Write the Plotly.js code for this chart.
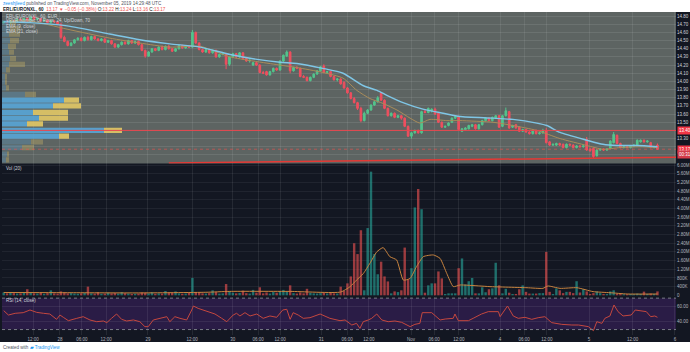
<!DOCTYPE html>
<html><head><meta charset="utf-8">
<script src="https://cdn.plot.ly/plotly-3.0.1.min.js"></script>
<style>html,body{margin:0;padding:0;background:#fff;}#chart{width:690px;height:352px;}</style>
</head><body><div id="chart"></div>
<script>
// ---------- DATA ----------
const opens = [
14.72,14.73,14.72,14.74,14.73,14.76,14.75,14.77,14.74,14.79,
14.76,14.77,14.74,14.75,14.72,14.74,14.73,14.70,14.54,14.49,
14.44,14.47,14.51,14.53,14.50,14.54,14.51,14.55,14.52,14.50,
14.52,14.48,14.50,14.46,14.42,14.45,14.48,14.46,14.50,14.47,
14.49,14.45,14.38,14.31,14.36,14.40,14.38,14.42,14.39,14.43,
14.40,14.37,14.40,14.44,14.41,14.43,14.42,14.60,14.47,14.39,
14.36,14.39,14.35,14.38,14.30,14.33,14.34,14.21,14.30,14.34,
14.30,14.35,14.28,14.25,14.20,14.23,14.20,14.11,14.12,14.08,
14.12,14.16,14.14,14.25,14.31,14.36,14.13,14.17,14.16,14.06,
14.05,14.01,14.05,14.09,14.13,14.19,14.11,14.12,14.06,14.02,
14.03,13.99,13.92,13.86,13.79,13.74,13.67,13.52,13.61,13.65,
13.71,13.75,13.86,13.77,13.67,13.58,13.61,13.56,13.58,13.55,
13.45,13.33,13.37,13.40,13.37,13.63,13.62,13.64,13.66,13.61,
13.50,13.44,13.46,13.50,13.55,13.57,13.39,13.41,13.42,13.45,
13.47,13.42,13.47,13.52,13.55,13.52,13.55,13.58,13.45,13.58,
13.63,13.44,13.47,13.44,13.39,13.41,13.38,13.36,13.40,13.36,
13.37,13.40,13.26,13.22,13.22,13.24,13.23,13.19,13.23,13.22,
13.19,13.21,13.20,13.29,13.17,13.18,13.09,13.16,13.17,13.16,
13.18,13.25,13.34,13.24,13.19,13.20,13.19,13.21,13.22,13.26,
13.28,13.26,13.25,13.19,13.22];
const highs = [
14.74,14.75,14.75,14.75,14.77,14.77,14.78,14.78,14.80,14.80,
14.78,14.78,14.76,14.76,14.75,14.75,14.74,14.72,14.56,14.50,
14.48,14.52,14.54,14.54,14.55,14.56,14.56,14.56,14.53,14.53,
14.53,14.51,14.51,14.47,14.46,14.49,14.49,14.51,14.51,14.50,
14.50,14.46,14.39,14.37,14.41,14.41,14.43,14.44,14.44,14.45,
14.41,14.41,14.45,14.45,14.44,14.44,14.63,14.61,14.48,14.40,
14.40,14.40,14.39,14.39,14.34,14.35,14.35,14.31,14.35,14.35,
14.36,14.36,14.29,14.27,14.24,14.24,14.21,14.13,14.13,14.13,
14.17,14.17,14.26,14.33,14.38,14.37,14.18,14.19,14.17,14.08,
14.06,14.06,14.10,14.14,14.19,14.21,14.13,14.13,14.07,14.04,
14.04,14.00,13.93,13.87,13.81,13.75,13.69,13.63,13.66,13.72,
13.77,13.82,13.87,13.78,13.68,13.62,13.62,13.59,13.59,13.56,
13.46,13.38,13.41,13.41,13.64,13.66,13.68,13.67,13.68,13.62,
13.51,13.46,13.50,13.56,13.58,13.58,13.43,13.44,13.47,13.48,
13.48,13.48,13.53,13.56,13.56,13.57,13.59,13.59,13.59,13.68,
13.64,13.47,13.48,13.45,13.42,13.42,13.39,13.41,13.41,13.38,
13.42,13.43,13.27,13.24,13.25,13.25,13.24,13.24,13.24,13.23,
13.22,13.22,13.22,13.32,13.19,13.19,13.17,13.18,13.18,13.18,
13.28,13.38,13.35,13.25,13.21,13.21,13.22,13.23,13.29,13.29,
13.29,13.28,13.26,13.21,13.24];
const lows = [
14.71,14.71,14.71,14.72,14.72,14.74,14.74,14.73,14.73,14.75,
14.75,14.73,14.73,14.71,14.71,14.72,14.69,14.52,14.48,14.43,
14.43,14.46,14.50,14.49,14.49,14.50,14.50,14.51,14.49,14.49,
14.47,14.47,14.45,14.41,14.41,14.44,14.45,14.45,14.46,14.46,
14.44,14.37,14.29,14.30,14.35,14.37,14.37,14.38,14.38,14.39,
14.36,14.36,14.39,14.40,14.40,14.41,14.41,14.46,14.38,14.35,
14.35,14.34,14.34,14.29,14.29,14.32,14.15,14.19,14.29,14.29,
14.29,14.27,14.24,14.23,14.19,14.19,14.10,14.09,14.07,14.07,
14.11,14.13,14.13,14.24,14.30,14.10,14.12,14.15,14.05,14.04,
14.00,14.00,14.04,14.08,14.12,14.10,14.09,14.05,14.01,14.00,
13.96,13.91,13.85,13.78,13.73,13.65,13.50,13.51,13.60,13.64,
13.70,13.74,13.76,13.66,13.57,13.57,13.55,13.55,13.53,13.44,
13.32,13.30,13.36,13.36,13.36,13.61,13.61,13.62,13.59,13.49,
13.43,13.43,13.45,13.49,13.54,13.40,13.38,13.40,13.41,13.44,
13.41,13.41,13.46,13.51,13.51,13.51,13.54,13.43,13.44,13.57,
13.42,13.43,13.42,13.38,13.38,13.37,13.35,13.35,13.35,13.35,
13.36,13.24,13.21,13.21,13.21,13.21,13.18,13.18,13.21,13.18,
13.18,13.19,13.19,13.15,13.14,13.06,13.08,13.15,13.15,13.15,
13.17,13.24,13.23,13.18,13.18,13.18,13.18,13.20,13.21,13.25,
13.25,13.25,13.18,13.18,13.16];
const closes = [
14.73,14.72,14.74,14.73,14.76,14.75,14.77,14.74,14.79,14.76,
14.77,14.74,14.75,14.72,14.74,14.73,14.70,14.54,14.49,14.44,
14.47,14.51,14.53,14.50,14.54,14.51,14.55,14.52,14.50,14.52,
14.48,14.50,14.46,14.42,14.45,14.48,14.46,14.50,14.47,14.49,
14.45,14.38,14.31,14.36,14.40,14.38,14.42,14.39,14.43,14.40,
14.37,14.40,14.44,14.41,14.43,14.42,14.60,14.47,14.39,14.36,
14.39,14.35,14.38,14.30,14.33,14.34,14.21,14.30,14.34,14.30,
14.35,14.28,14.25,14.26,14.23,14.20,14.11,14.10,14.08,14.12,
14.16,14.14,14.25,14.32,14.36,14.13,14.17,14.16,14.06,14.05,
14.01,14.05,14.09,14.13,14.18,14.11,14.12,14.06,14.02,14.03,
13.97,13.92,13.86,13.79,13.74,13.67,13.52,13.61,13.65,13.71,
13.75,13.80,13.77,13.67,13.58,13.61,13.56,13.58,13.55,13.45,
13.33,13.37,13.40,13.37,13.63,13.62,13.67,13.66,13.60,13.50,
13.44,13.45,13.49,13.55,13.57,13.41,13.42,13.43,13.46,13.47,
13.42,13.47,13.52,13.55,13.52,13.56,13.58,13.44,13.58,13.64,
13.43,13.46,13.43,13.39,13.41,13.38,13.36,13.40,13.36,13.37,
13.40,13.25,13.22,13.23,13.24,13.22,13.19,13.23,13.22,13.19,
13.21,13.20,13.21,13.16,13.15,13.08,13.16,13.17,13.16,13.17,
13.27,13.35,13.24,13.19,13.20,13.19,13.21,13.22,13.28,13.28,
13.26,13.27,13.19,13.20,13.17];
// volume in thousands
const volumes = [
130,90,110,100,80,90,120,280,120,90,
80,130,70,100,230,90,80,180,130,90,
100,80,70,90,110,400,90,80,150,70,
80,120,90,110,80,150,100,80,60,70,
80,130,120,90,150,70,90,80,200,120,
110,180,90,70,80,120,800,150,130,90,
80,100,230,150,80,90,520,200,120,90,
110,215,100,80,250,120,370,90,130,80,
150,120,200,250,180,460,100,80,130,90,
300,110,90,80,100,120,80,110,90,80,
400,200,550,870,2400,1900,3000,230,3100,5700,
1900,970,1550,870,640,90,180,150,230,2200,
740,1250,4050,4900,3970,120,460,550,550,1100,
780,60,90,90,90,1250,1700,500,650,800,
90,90,370,140,280,320,1500,460,90,300,
120,60,60,280,460,160,80,80,80,100,
100,2000,160,60,320,230,100,160,160,100,
650,130,280,180,60,100,180,100,60,60,
180,230,60,60,50,50,60,50,80,60,
170,60,80,60,180];
// volume moving average (bar index, thousands)
const volMaBar = [0,20,40,60,67,85,100,102.8,104.7,106.7,108.7,110.7,112.6,114.6,116.6,118.6,120.6,122.5,124.5,127.5,129.5,131.5,133.4,135.4,141.3,144.3,155.3,160,161.5,165.1,170.1,174.9,179.9,185,194];
const volMaVal = [130,120,110,140,180,180,150,400,700,1000,1480,2000,2200,1780,1630,700,780,1320,1780,1860,1700,1000,400,475,430,400,350,320,430,320,350,170,120,60,60];
// moving averages on price
const emaSlowBar = [0,7.8,18.8,31.5,40.4,49.3,58.3,67.2,75.2,82,87,94.7,100.7,106.6,110.8,113.7,118.5,124.4,130.4,135.4,145.2,151.1,158.2,161.2,165.1,173.1,177.8,182,187.9,194];
const emaSlowVal = [14.73,14.72,14.68,14.58,14.51,14.46,14.42,14.33,14.27,14.235,14.22,14.16,14.10,13.95,13.89,13.83,13.74,13.66,13.61,13.57,13.55,13.535,13.49,13.46,13.375,13.28,13.23,13.215,13.215,13.20];
const emaFastBar = [0,7.8,18.8,31.5,40.4,49.3,58.3,67.2,82,87,94.7,100.7,104.8,108.7,112.6,116.7,120.6,123.5,126.5,131.5,135.4,145.2,151.1,158.2,165.1,173.1,177.8,182.9,188.8,194];
const emaFastVal = [14.73,14.74,14.64,14.53,14.47,14.42,14.43,14.30,14.20,14.17,14.11,14.04,13.89,13.79,13.73,13.65,13.55,13.49,13.535,13.52,13.52,13.50,13.46,13.40,13.30,13.215,13.17,13.19,13.20,13.19];
// RSI
const rsiBar = [0,1.4,3.4,5.8,7.8,9.8,11.8,13.7,15.7,16.7,17.7,19.2,21.7,23.6,25.6,27.6,29.6,30.6,32,33.5,35,36.5,38.5,40.4,41.9,42.9,44.4,46.4,48.4,49.3,50.8,52.3,54.3,55.8,56.3,57.7,59.2,60.7,62.7,64.7,66.2,68.1,69.1,70.1,71.6,73.1,75.1,77,79,81,82.8,84,85,85.9,87.4,88.9,90.9,93.9,95.3,96.8,99.8,101.3,103.3,104.7,105.7,106.7,108.2,109.2,110.7,112.2,114.1,116.1,118.1,120.6,122,123.5,124.2,127,129.5,131,133.4,133.9,134.9,137.9,139.3,141.8,143.8,146.8,147.3,149.5,151.2,152.7,154.7,156.7,158.6,160.6,162.6,165.6,168.6,170.6,173.5,175,176,177.5,178.4,179.9,181.1,182.3,183.8,186.2,187.4,188.7,190.7,192,193.2,194];
const rsiVal = [54.1,48.5,50.7,51.5,54.9,51.9,50.7,49.8,43.0,48.5,45.6,41.3,44.3,46.4,42.2,40.0,40.9,38.8,44.3,49.8,43.0,40.9,42.2,40.0,33.7,33.7,42.2,44.3,46.4,40.0,46.4,44.3,42.2,54.9,60.0,57.0,54.9,52.8,49.8,44.3,40.0,48.5,50.7,47.3,51.5,47.3,49.8,44.3,47.3,45.6,54.9,55.8,43.0,51.5,48.5,44.3,45.1,49.8,47.3,44.3,41.3,42.2,35.8,37.9,31.5,40.0,42.2,44.3,49.8,42.2,40.0,40.9,39.2,33.7,36.6,37.9,51.5,51.5,42.2,43.4,44.3,49.8,41.3,41.3,44.3,49.8,52.8,52.8,46.4,60.0,47.3,44.3,45.6,43.0,45.1,46.4,38.8,36.6,35.8,35.8,33.7,28.6,40.0,37.9,44.3,47.3,61.3,52.8,47.3,48.5,54.9,54.1,52.8,46.4,47.3,45.6];
// volume profile rows (bottom to top)
const vpPrice = [13.04,13.11,13.19,13.26,13.33,13.40,13.48,13.55,13.62,13.70,13.77,13.84,13.92,13.99,14.06,14.14,14.21,14.28,14.36,14.43,14.50,14.58,14.65,14.72];
const vpUp   = [4,5,20,29,57,102,25,37,31,51,62,23,4,3,3,4,7,8,7,6,8,7,8,8];
const vpDown = [3,2,12,12,10,18,16,29,35,28,15,11,3,2,2,4,16,6,5,8,9,11,10,6];
const vpValueArea = [0,0,0,0,1,1,1,1,1,1,1,0,0,0,0,0,0,0,0,0,0,0,0,0];
// support trend line
const trendBar = [49,199.5];
const trendPrice = [13.001,13.072];
const keyLevel = 13.40;
const lastPrice = 13.17;
// axes
const tickBars = [8.7,16.7,23.2,30.4,42.8,55.9,68.0,75.5,82.0,94.2,101.9,108.4,120.9,127.7,135.1,147.3,154.4,161.2,173.7,186.6,199.2];
const tickLabels = ['12:00','28','06:00','12:00','29','12:00','30','06:00','12:00','31','06:00','12:00','Nov','06:00','12:00','4','06:00','12:00','5','12:00','6'];
const priceTicks = [13.1,13.2,13.3,13.4,13.5,13.6,13.7,13.8,13.9,14.0,14.1,14.2,14.3,14.4,14.5,14.6,14.7,14.8];
// 13.10, 13.20 and 13.40 are covered by the price labels in the reference
const priceTickText = ['','','13.30','','13.50','13.60','13.70','13.80','13.90','14.00','14.10','14.20','14.30','14.40','14.50','14.60','14.70','14.80'];
const volTicks = [0,400,800,1200,1600,2000,2400,2800,3200,3600,4000,4400,4800,5200,5600,6000];
const volTickText = ['0','400K','800K','1.20M','1.60M','2.00M','2.40M','2.80M','3.20M','3.60M','4.00M','4.40M','4.80M','5.20M','5.60M','6.00M'];
const rsiTicks = [40,60];
const rsiTickText = ['40.00','60.00'];

// ---------- BUILD ----------
const UP='#53c48c', DN='#ef4f5f';
const idx = opens.map((_,i)=>i);
const volColors = idx.map(i => closes[i]>=opens[i] ? 'rgba(38,166,154,0.62)' : 'rgba(239,83,80,0.62)');
const vpBlue = vpValueArea.map(v => v ? 'rgba(88,165,215,0.9)' : 'rgba(88,165,215,0.3)');
const vpYel  = vpValueArea.map(v => v ? 'rgba(226,200,102,0.9)' : 'rgba(226,200,102,0.3)');

const traces = [
 {type:'bar', orientation:'h', x:vpUp, y:vpPrice, xaxis:'x2', yaxis:'y', width:0.064, marker:{color:vpBlue}, hoverinfo:'skip'},
 {type:'bar', orientation:'h', x:vpDown, base:vpUp, y:vpPrice, xaxis:'x2', yaxis:'y', width:0.064, marker:{color:vpYel}, hoverinfo:'skip'},
 {type:'scatter', mode:'lines', x:emaFastBar, y:emaFastVal, xaxis:'x', yaxis:'y', line:{color:'#a98c5a', width:1, shape:'spline', smoothing:0.6}},
 {type:'scatter', mode:'lines', x:emaSlowBar, y:emaSlowVal, xaxis:'x', yaxis:'y', line:{color:'#7fc6e6', width:1.4, shape:'spline', smoothing:0.6}},
 {type:'candlestick', x:idx, open:opens, high:highs, low:lows, close:closes, xaxis:'x', yaxis:'y',
  increasing:{line:{color:UP,width:1}, fillcolor:UP}, decreasing:{line:{color:DN,width:1}, fillcolor:DN}, whiskerwidth:0},
 {type:'scatter', mode:'lines', x:trendBar, y:trendPrice, xaxis:'x', yaxis:'y', line:{color:'#e53935', width:1.5}},
 {type:'bar', x:idx, y:volumes, xaxis:'x', yaxis:'y2', width:0.72, marker:{color:volColors}},
 {type:'scatter', mode:'lines', x:volMaBar, y:volMaVal, xaxis:'x', yaxis:'y2', line:{color:'#c9843f', width:1, shape:'spline', smoothing:0.5}},
 {type:'scatter', mode:'lines', x:rsiBar, y:rsiVal, xaxis:'x', yaxis:'y3', line:{color:'#c4473f', width:1}}
];

const txt = '#d1d4dc';
const F = 'Liberation Sans, Arial, sans-serif';
function py(px){ return 1 - (px-12)/323; }
function pxX(px){ return (px-2)/674; }
const red = '#ef5350';
const annotations = [
 {xref:'paper', yref:'paper', x:pxX(1), y:py(4), xanchor:'left', yanchor:'middle', showarrow:false,
  text:'<span style="color:#2196f3">zeeshjleed</span> published on TradingView.com, November 05, 2019 14:29:48 UTC', font:{size:4.6, color:'#50535e', family:F}},
 {xref:'paper', yref:'paper', x:pxX(1), y:py(9.6), xanchor:'left', yanchor:'middle', showarrow:false,
  text:'<b>ERL/EURONXL, 60</b>  <span style="color:'+red+'">13.17 ▼ −0.05 (−0.38%)</span> O:<span style="color:'+red+'">13.22</span> H:<span style="color:'+red+'">13.24</span> L:<span style="color:'+red+'">13.16</span> C:<span style="color:'+red+'">13.17</span>', font:{size:4.6, color:'#131722', family:F}},
 {xref:'paper', yref:'paper', x:pxX(4), y:py(16), xanchor:'left', yanchor:'middle', showarrow:false, text:'ERL/EURONXL, 60, EUR', font:{size:4.5, color:txt, family:F}},
 {xref:'paper', yref:'paper', x:pxX(4), y:py(21), xanchor:'left', yanchor:'middle', showarrow:false, text:'VPVR Number Of Rows, 24, Up/Down, 70', font:{size:4.5, color:txt, family:F}},
 {xref:'paper', yref:'paper', x:pxX(4), y:py(26), xanchor:'left', yanchor:'middle', showarrow:false, text:'EMA (9, close)', font:{size:4.5, color:txt, family:F}},
 {xref:'paper', yref:'paper', x:pxX(4), y:py(31), xanchor:'left', yanchor:'middle', showarrow:false, text:'EMA (21, close)', font:{size:4.5, color:txt, family:F}},
 {xref:'paper', yref:'paper', x:pxX(4), y:py(168), xanchor:'left', yanchor:'middle', showarrow:false, text:'Vol (20)', font:{size:4.5, color:txt, family:F}},
 {xref:'paper', yref:'paper', x:pxX(4), y:py(300.5), xanchor:'left', yanchor:'middle', showarrow:false, text:'RSI (14, close)', font:{size:4.5, color:txt, family:F}},
 {xref:'paper', yref:'y', x:1, y:keyLevel, xanchor:'left', yanchor:'middle', xshift:1, showarrow:false, text:'13.40', bgcolor:'#f23645', borderpad:1, font:{size:4.5, color:'#ffffff', family:F}},
 {xref:'paper', yref:'y', x:1, y:lastPrice, xanchor:'left', yanchor:'middle', xshift:1, showarrow:false, text:'13.17', bgcolor:'#f23645', borderpad:1, font:{size:4.5, color:'#ffffff', family:F}},
 {xref:'paper', yref:'y', x:1, y:13.10, xanchor:'left', yanchor:'middle', xshift:1, showarrow:false, text:'00:31', bgcolor:'#d23a48', borderpad:1, font:{size:4.5, color:'#ffffff', family:F}},
 {xref:'paper', yref:'paper', x:pxX(1), y:py(347.5), xanchor:'left', yanchor:'middle', showarrow:false,
  text:'Created with <span style="color:#2196f3">▰ TradingView</span>', font:{size:4.5, color:'#50535e', family:F}}
];

const shapes = [
 {type:'rect', xref:'paper', yref:'paper', x0:-0.01, x1:1.03, y0:py(342), y1:1, fillcolor:'#131722', line:{width:0}, layer:'below'},
 {type:'rect', xref:'x domain', yref:'y domain', x0:0, x1:1, y0:0, y1:1, fillcolor:'#5d6462', line:{width:0}, layer:'below'},
 {type:'rect', xref:'x domain', yref:'y3', x0:0, x1:1, y0:30, y1:70, fillcolor:'#2a1c46', line:{width:0}, layer:'below'},
 {type:'line', xref:'x domain', yref:'y3', x0:0, x1:1, y0:70, y1:70, line:{color:'#787b86', width:1, dash:'dot'}},
 {type:'line', xref:'x domain', yref:'y3', x0:0, x1:1, y0:30, y1:30, line:{color:'#787b86', width:1, dash:'dot'}},
 {type:'line', xref:'x domain', yref:'y', x0:0, x1:1, y0:keyLevel, y1:keyLevel, line:{color:'#e8474f', width:1}},
 {type:'line', xref:'x domain', yref:'y', x0:0, x1:1, y0:lastPrice, y1:lastPrice, line:{color:'rgba(239,83,80,0.6)', width:1, dash:'dot'}}
];

const axisFont = {size:4.5, color:'#b2b5be', family:F};
const layout = {
 width:690, height:352, margin:{l:2, r:14, t:12, b:17, pad:0},
 paper_bgcolor:'#ffffff', plot_bgcolor:'#131722', showlegend:false,
 barmode:'overlay', font:{family:F, size:4.5, color:'#b2b5be'},
 xaxis:{domain:[0,1], range:[-0.5,199.5], anchor:'y3', tickmode:'array', tickvals:tickBars, ticktext:tickLabels,
   showgrid:true, gridcolor:'rgba(255,255,255,0.08)', zeroline:false, showline:false, ticks:'', tickfont:axisFont,
   rangeslider:{visible:false}, fixedrange:true},
 xaxis2:{overlaying:'x', range:[0,674], visible:false, anchor:'y', fixedrange:true},
 yaxis:{domain:[py(163.5),1], range:[12.995,14.85], side:'right', tickmode:'array', tickvals:priceTicks, ticktext:priceTickText,
   showgrid:true, gridcolor:'rgba(255,255,255,0.09)', zeroline:false, ticks:'', tickfont:{size:4.5,color:'#d1d4dc',family:F}, fixedrange:true},
 yaxis2:{domain:[py(296),py(164)], range:[-32,6053], side:'right', tickmode:'array', tickvals:volTicks, ticktext:volTickText,
   showgrid:true, gridcolor:'rgba(255,255,255,0.06)', zeroline:false, ticks:'', tickfont:axisFont, fixedrange:true},
 yaxis3:{domain:[0,py(297)], range:[23.06,71.46], side:'right', tickmode:'array', tickvals:rsiTicks, ticktext:rsiTickText,
   showgrid:true, gridcolor:'rgba(255,255,255,0.07)', zeroline:false, ticks:'', tickfont:axisFont, fixedrange:true},
 annotations:annotations, shapes:shapes
};
Plotly.newPlot('chart', traces, layout, {staticPlot:true, displayModeBar:false});
</script></body></html>
